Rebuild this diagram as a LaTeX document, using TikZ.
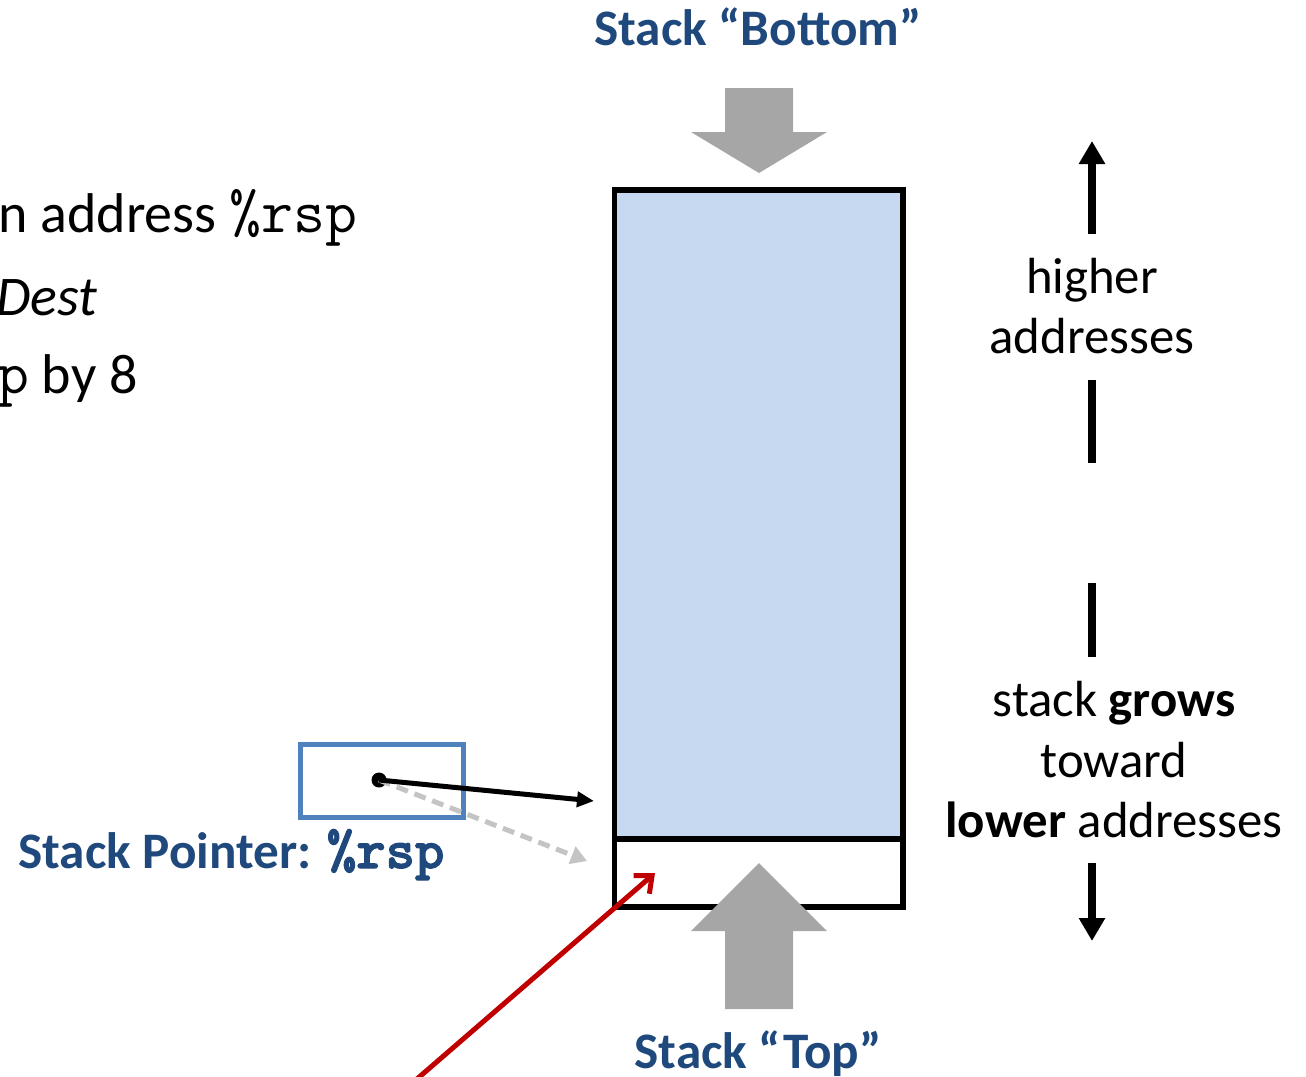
\documentclass[tikz,border=0pt]{standalone}
\usepackage{fontspec}
\setmainfont{Carlito}
\newfontfamily\regboldfont{lmmonolt10-bold.otf}[FakeBold=2]
\usetikzlibrary{arrows.meta}

\definecolor{titleblue}{HTML}{1F497D}
\definecolor{stackblue}{HTML}{C6D9F1}
\definecolor{arrowgray}{HTML}{A6A6A6}
\definecolor{dashgray}{HTML}{C4C4C4}
\definecolor{ptrblue}{HTML}{4F81BD}
\definecolor{popred}{HTML}{C00000}

\newcommand{\regname}[1]{{\fontsize{31}{34}\selectfont\ttfamily #1}}

\tikzset{
  heading/.style={font=\fontsize{25.6}{30}\selectfont\bfseries, text=titleblue, inner sep=0pt},
  note/.style={font=\fontsize{25.4}{30}\selectfont, inner sep=0pt, anchor=base},
  bodytext/.style={font=\fontsize{28}{34}\selectfont, inner sep=0pt, anchor=base west},
  cell/.style={draw, line width=2.6pt, inner sep=0pt},
  blockarrow/.style={fill=arrowgray, draw=none},
  thickarrow/.style={line width=4pt, -{Triangle[length=11.5pt,width=12.5pt]}},
  thickbar/.style={line width=4pt},
}

\begin{document}
\begin{tikzpicture}[x=0.5pt, y=-0.5pt]
  \useasboundingbox (0,0) rectangle (1306,1076);

  % text cut off at the left edge
  \node [bodytext] (line1) at (-2,232) {n address \regname{\%rsp}};
  \node [bodytext] (line2) at (-4,315) {\itshape Dest};
  \node [bodytext] (line3) at (-3,393) {\regname{p} by 8};

  % the stack
  \node [cell, fill=stackblue, minimum width=144.25pt, minimum height=324.5pt] (body) at (758.75,514.5) {};
  \node [cell, minimum width=144.25pt, minimum height=34pt] (topcell) at (758.75,873) {};

  \draw [blockarrow] (725,88) -- (793,88) -- (793,132) -- (827,132) -- (759,173) -- (691,132) -- (725,132) -- cycle;
  \draw [blockarrow] (759,863) -- (827,931) -- (793,931) -- (793,1009) -- (725,1009) -- (725,931) -- (691,931) -- cycle;

  \node [heading, anchor=base] (bottom) at (758,45) {Stack “Bottom”};
  \node [heading, anchor=base] (top) at (758,1068) {Stack “Top”};

  % direction of growth
  \coordinate (hifoot) at (1092,234);
  \coordinate (hitip) at (1092,141);
  \coordinate (hibar1) at (1092,380);
  \coordinate (hibar2) at (1092,463);
  \coordinate (lobar1) at (1092,583);
  \coordinate (lobar2) at (1092,657);
  \coordinate (lofoot) at (1092,863);
  \coordinate (lotip) at (1092,941);

  \draw [thickarrow] (hifoot) -- (hitip);
  \draw [thickbar] (hibar1) -- (hibar2);
  \draw [thickbar] (lobar1) -- (lobar2);
  \draw [thickarrow] (lofoot) -- (lotip);

  \node [note] (higher) at (1092,293) {higher};
  \node [note] (highaddr) at (1092,353) {addresses};
  \node [note] (grows) at (1114,716) {stack \textbf{grows}};
  \node [note] (toward) at (1114,777) {toward};
  \node [note] (lower) at (1114,837) {\textbf{lower} addresses};

  % stack pointer
  \node [draw=ptrblue, line width=2.5pt, minimum width=81.5pt, minimum height=36.5pt, inner sep=0pt] (rspbox) at (381.5,780.5) {};
  \node [circle, fill, inner sep=0pt, minimum size=7.5pt] (rspdot) at (379,780) {};
  \node [heading, anchor=base west] (rsplabel) at (18,868) {Stack Pointer: {\fontsize{28}{30}\selectfont\regboldfont \%rsp}};

  \coordinate (oldtop) at (594,801);
  \coordinate (newtop) at (587,861);
  \coordinate (redfoot) at (410,1085);
  \coordinate (redtip) at (655,873);

  \draw [dashgray, line width=2.5pt, dash pattern=on 6pt off 3.5pt, -{Triangle[length=8pt,width=9pt]}] (rspdot.center) -- (newtop);
  \draw [line width=2.5pt, -{Triangle[length=8.5pt,width=7.5pt]}] (rspdot.center) -- (oldtop);
  \draw [popred, line width=2.5pt, -{Straight Barb[length=7pt,width=12pt]}] (redfoot) -- (redtip);
\end{tikzpicture}
\end{document}
